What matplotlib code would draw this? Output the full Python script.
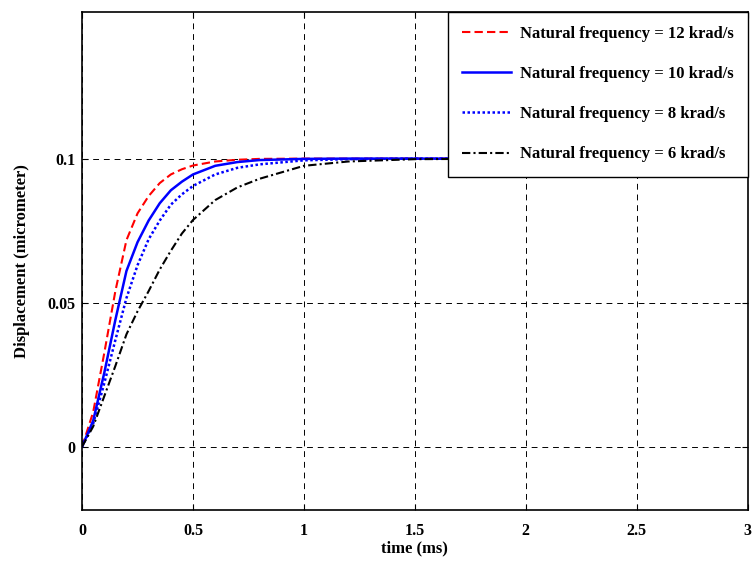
import matplotlib
matplotlib.use("Agg")
import matplotlib.pyplot as plt

plt.rcParams['font.family'] = ['Liberation Serif', 'DejaVu Serif']
plt.rcParams['font.weight'] = 'bold'

# time in ms
t = [0, 0.05, 0.1, 0.15, 0.2, 0.25, 0.3, 0.35, 0.4, 0.45, 0.5, 0.6, 0.7, 0.8, 1.0, 1.2, 1.5, 2.0, 3.0]

# displacement (micrometer)
wn12 = [0, 0.012, 0.0325, 0.054, 0.0717, 0.081, 0.087, 0.0915, 0.0945, 0.0963, 0.0976, 0.099, 0.0996, 0.0999, 0.1, 0.1, 0.1, 0.1, 0.1]
wn10 = [0, 0.009, 0.0256, 0.044, 0.061, 0.071, 0.0785, 0.0845, 0.089, 0.092, 0.0945, 0.0975, 0.0988, 0.0995, 0.0999, 0.1, 0.1, 0.1, 0.1]
wn8 = [0, 0.008, 0.022, 0.037, 0.0516, 0.063, 0.072, 0.0785, 0.084, 0.0876, 0.0905, 0.0945, 0.0968, 0.098, 0.0994, 0.0998, 0.1, 0.1, 0.1]
wn6 = [0, 0.007, 0.0175, 0.028, 0.039, 0.047, 0.054, 0.0615, 0.068, 0.074, 0.0787, 0.0856, 0.090, 0.093, 0.0975, 0.099, 0.0998, 0.1, 0.1]

labels = ['Natural frequency = 12 krad/s', 'Natural frequency = 10 krad/s',
          'Natural frequency = 8 krad/s', 'Natural frequency = 6 krad/s']

fig = plt.figure(figsize=(7.53, 5.65), dpi=100)
ax = fig.add_axes([0.109, 0.0973, 0.884, 0.882])

ax.plot(t, wn12, color='red', linestyle=(0, (4, 2)), linewidth=1.5, label=labels[0])
ax.plot(t, wn10, color='blue', linestyle='-', linewidth=1.8, label=labels[1])
ax.plot(t, wn8, color='blue', linestyle=(0, (1, 1)), linewidth=1.8, label=labels[2])
ax.plot(t, wn6, color='black', linestyle=(0, (4, 1.5, 1, 1.5)), linewidth=1.5, label=labels[3])

ax.set_xlim(0, 3)
ax.set_ylim(-0.022, 0.151)
ax.set_xticks([0, 0.5, 1, 1.5, 2, 2.5, 3])
ax.set_xticklabels(['0', '0.5', '1', '1.5', '2', '2.5', '3'])
ax.set_yticks([0, 0.05, 0.1])
ax.set_yticklabels(['0', '0.05', '0.1'])
ax.tick_params(direction='in', length=4, width=0.8, labelsize=11.5, top=True, right=True)
ax.tick_params(axis='x', pad=9)
ax.tick_params(axis='y', pad=5)
ax.grid(True, color='black', linestyle=(0, (6, 5)), linewidth=0.7)
for s in ax.spines.values():
    s.set_linewidth(1.2)

ax.set_xlabel('time (ms)', fontsize=12, fontweight='bold', labelpad=1)
ax.set_ylabel('Displacement (micrometer)', fontsize=12, fontweight='bold', labelpad=12)

leg = ax.legend(loc='upper right', borderaxespad=0, fancybox=False, framealpha=1,
                edgecolor='black', prop={'weight': 'bold', 'size': 12},
                handlelength=2.9, labelspacing=1.45, borderpad=0.85, handletextpad=0.55)
leg.get_frame().set_linewidth(1.0)

fig.savefig('out.png', dpi=100)
